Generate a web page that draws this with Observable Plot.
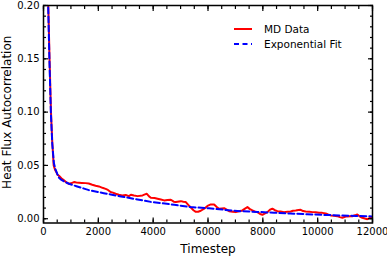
<!DOCTYPE html>
<html>
<head>
<meta charset="utf-8">
<script src="https://cdn.jsdelivr.net/npm/d3@7"></script>
<script src="https://cdn.jsdelivr.net/npm/@observablehq/plot@0.6"></script>
<style>
  html, body { margin: 0; padding: 0; background: white; }
  #wrap { position: relative; width: 387px; height: 256px; font-family: "DejaVu Sans", sans-serif; }
  #legend { position: absolute; left: 234px; top: 21px; font-size: 10.5px; color: black; }
  #legend .row { display: flex; align-items: center; height: 15.5px; }
  #legend svg { margin-right: 12px; }
</style>
</head>
<body>
<div id="wrap"></div>
<script>
// MD data
const mdSteps = [0, 100, 175, 220, 273, 320, 371, 420, 470, 503, 565, 650, 747, 840, 929, 1000, 1111, 1200, 1293, 1400, 1537, 1650, 1778, 1900, 2022, 2150, 2266, 2350, 2448, 2530, 2630, 2750, 2871, 3000, 3115, 3188, 3300, 3431, 3613, 3700, 3770, 3850, 3916, 4050, 4160, 4280, 4400, 4520, 4645, 4750, 4827, 5009, 5100, 5191, 5280, 5373, 5470, 5555, 5640, 5738, 5860, 5980, 6102, 6223, 6320, 6405, 6500, 6587, 6680, 6769, 6900, 7013, 7130, 7256, 7350, 7438, 7530, 7620, 7700, 7802, 7900, 7984, 8080, 8167, 8260, 8349, 8440, 8531, 8650, 8772, 8900, 9016, 9100, 9199, 9300, 9381, 9470, 9563, 9700, 9806, 9930, 10049, 10170, 10291, 10380, 10474, 10600, 10717, 10810, 10900, 11000, 11082, 11180, 11264, 11360, 11446, 11540, 11628, 11720, 11810, 11930, 12000];
const mdValues = [1.0, 0.33, 0.20, 0.15, 0.10, 0.072, 0.05, 0.046, 0.0437, 0.0415, 0.0403, 0.038, 0.036, 0.034, 0.0328, 0.0332, 0.0344, 0.034, 0.0338, 0.0336, 0.0334, 0.033, 0.0319, 0.031, 0.0303, 0.029, 0.028, 0.027, 0.025, 0.0245, 0.0234, 0.0225, 0.0219, 0.0222, 0.0212, 0.0225, 0.0218, 0.0212, 0.0219, 0.0228, 0.0234, 0.021, 0.0197, 0.0195, 0.0188, 0.018, 0.0172, 0.0176, 0.0178, 0.016, 0.0156, 0.0165, 0.016, 0.0156, 0.013, 0.0105, 0.008, 0.0065, 0.0066, 0.0075, 0.0094, 0.012, 0.0134, 0.0134, 0.011, 0.0094, 0.0097, 0.0099, 0.0085, 0.0071, 0.0066, 0.0062, 0.007, 0.0078, 0.0095, 0.0109, 0.009, 0.0078, 0.0068, 0.0062, 0.0045, 0.0037, 0.005, 0.0062, 0.0085, 0.0094, 0.008, 0.0071, 0.0068, 0.0062, 0.0066, 0.0068, 0.0075, 0.0078, 0.0082, 0.0084, 0.0072, 0.0068, 0.0065, 0.0062, 0.006, 0.0056, 0.0055, 0.005, 0.004, 0.0031, 0.0028, 0.0024, 0.0015, 0.0009, 0.0018, 0.0022, 0.0023, 0.0024, 0.0032, 0.004, 0.002, 0.0009, 0.0002, -0.0004, 0.0009, 0.0015];

// Exponential fit
const fitSteps = [0, 100, 170, 215, 268, 320, 380, 440, 503, 565, 627, 750, 929, 1200, 1657, 2200, 2823, 3431, 3916, 4767, 5373, 6040, 6587, 7195, 7800, 8409, 9000, 9624, 10200, 10838, 11400, 12000];
const fitValues = [1.0, 0.33, 0.20, 0.15, 0.10, 0.07, 0.052, 0.046, 0.042, 0.0385, 0.037, 0.035, 0.0328, 0.0305, 0.0268, 0.024, 0.0209, 0.0181, 0.0158, 0.0131, 0.0109, 0.0098, 0.0084, 0.0071, 0.0064, 0.0056, 0.0049, 0.0042, 0.0036, 0.0031, 0.0026, 0.0022];

const xTicks = [0, 2000, 4000, 6000, 8000, 10000, 12000];
const xMinorTicks = d3.range(0, 12001, 500);
const yTicks = [0, 0.05, 0.10, 0.15, 0.20];
const yMinorTicks = d3.range(0, 21, 1).map(d => d / 100);

const seriesNames = ["MD Data", "Exponential Fit"];
const seriesColors = ["red", "blue"];

const mdData = mdSteps.map((t, i) => ({t, v: mdValues[i]}));
const fitData = fitSteps.map((t, i) => ({t, v: fitValues[i]}));

const blank = () => "";
const tickStyle = {strokeWidth: 1.2, label: null, tickFormat: blank};

const chart = Plot.plot({
  width: 387,
  height: 256,
  marginLeft: 43,
  marginRight: 15,
  marginTop: 5,
  marginBottom: 33.5,
  x: {domain: [0, 12000]},
  y: {domain: [-0.004, 0.2]},
  style: {fontFamily: "DejaVu Sans", fontSize: "10px", color: "black", background: "white"},
  marks: [
    Plot.line(mdData, {x: "t", y: "v", stroke: seriesColors[0], strokeWidth: 2, clip: true}),
    Plot.line(fitData, {x: "t", y: "v", stroke: seriesColors[1], strokeWidth: 2, strokeDasharray: "6,3", clip: true}),
    // tick labels
    Plot.axisX(xTicks, {anchor: "bottom", tickSize: 0, tickPadding: 5, tickFormat: d => String(d), label: null, fontSize: 10}),
    Plot.axisY(yTicks, {anchor: "left", tickSize: 0, tickPadding: 4, tickFormat: d3.format(".2f"), label: null, fontSize: 10}),
    // inward major ticks on all sides
    Plot.axisX(xTicks, {anchor: "bottom", tickSize: -5, ...tickStyle}),
    Plot.axisX(xTicks, {anchor: "top", tickSize: -5, ...tickStyle}),
    Plot.axisY(yTicks, {anchor: "left", tickSize: -5, ...tickStyle}),
    Plot.axisY(yTicks, {anchor: "right", tickSize: -5, ...tickStyle}),
    // inward minor ticks
    Plot.axisX(xMinorTicks, {anchor: "bottom", tickSize: -3, ...tickStyle}),
    Plot.axisX(xMinorTicks, {anchor: "top", tickSize: -3, ...tickStyle}),
    Plot.axisY(yMinorTicks, {anchor: "left", tickSize: -3, ...tickStyle}),
    Plot.axisY(yMinorTicks, {anchor: "right", tickSize: -3, ...tickStyle}),
    Plot.frame({stroke: "black", strokeWidth: 1.5}),
    Plot.text(["Timestep"], {frameAnchor: "bottom", lineAnchor: "middle", textAnchor: "middle", dy: 26, fontSize: 12}),
    Plot.text(["Heat Flux Autocorrelation"], {frameAnchor: "left", rotate: -90, textAnchor: "middle", lineAnchor: "middle", dx: -36, dy: -2, fontSize: 12})
  ]
});

const wrap = document.getElementById("wrap");
wrap.appendChild(chart);

// legend overlay
const legend = document.createElement("div");
legend.id = "legend";
seriesNames.forEach((name, i) => {
  const row = document.createElement("div");
  row.className = "row";
  const dash = i === 1 ? 'stroke-dasharray="5,3.5"' : "";
  row.innerHTML = `<svg width="18" height="6"><line x1="0" y1="3" x2="18" y2="3" stroke="${seriesColors[i]}" stroke-width="2" ${dash}/></svg><span>${name}</span>`;
  legend.appendChild(row);
});
wrap.appendChild(legend);
</script>
</body>
</html>
